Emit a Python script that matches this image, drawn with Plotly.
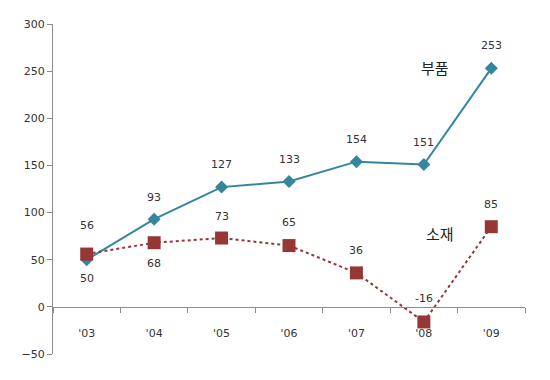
import plotly.graph_objects as go

years = ["'03", "'04", "'05", "'06", "'07", "'08", "'09"]
parts = [50, 93, 127, 133, 154, 151, 253]      # 부품
materials = [56, 68, 73, 65, 36, -16, 85]      # 소재
parts_label_shift = [-19, 22, 23, 22, 22, 22, 23]
mat_label_shift = [29, -21, 22, 23, 22, 23, 22]
y_ticks = [-50, 0, 50, 100, 150, 200, 250, 300]

teal = "#33869c"
red = "#953735"
txt = "#333333"
axis_col = "#8c8c8c"

fig = go.Figure()
fig.add_trace(go.Scatter(
    x=years, y=parts, mode="lines+markers", name="부품",
    line=dict(color=teal, width=2),
    marker=dict(symbol="diamond", size=10, color=teal),
))
fig.add_trace(go.Scatter(
    x=years, y=materials, mode="lines+markers", name="소재",
    line=dict(color=red, width=2, dash="dot"),
    marker=dict(symbol="square", size=13, color=red),
))

ann = []
for x, v, s in zip(years, parts, parts_label_shift):
    ann.append(dict(x=x, y=v, text=str(v), showarrow=False, yshift=s,
                    font=dict(size=11, color=txt)))
for x, v, s in zip(years, materials, mat_label_shift):
    ann.append(dict(x=x, y=v, text=str(v), showarrow=False, yshift=s,
                    font=dict(size=11, color=txt)))
ann.append(dict(x=5.17, y=254, text="부품", showarrow=False,
                font=dict(size=15, color="#222222", family="Noto Sans CJK KR")))
ann.append(dict(x=5.24, y=78, text="소재", showarrow=False,
                font=dict(size=15, color="#222222", family="Noto Sans CJK KR")))

ymin, ymax = -50, 300
zero_pos = (0 - ymin) / (ymax - ymin)

fig.update_layout(
    width=550, height=380,
    margin=dict(l=45, r=33, t=10, b=34),
    paper_bgcolor="white", plot_bgcolor="white",
    showlegend=False,
    font=dict(family="DejaVu Sans", size=11, color=txt),
    annotations=ann,
    xaxis=dict(
        type="category", range=[-0.5, 6.5],
        anchor="free", position=zero_pos,
        showline=True, linecolor=axis_col, linewidth=1,
        ticks="outside", tickson="boundaries", ticklen=5, tickcolor=axis_col,
        showgrid=False, zeroline=False,
        ticklabelstandoff=16,
        tickfont=dict(size=11, color=txt),
    ),
    yaxis=dict(
        range=[ymin, ymax], tickvals=y_ticks,
        showline=True, linecolor=axis_col, linewidth=1,
        ticks="outside", ticklen=5, tickcolor=axis_col,
        showgrid=False, zeroline=False,
        tickfont=dict(size=11, color=txt),
    ),
)

fig.write_html("out.html")
